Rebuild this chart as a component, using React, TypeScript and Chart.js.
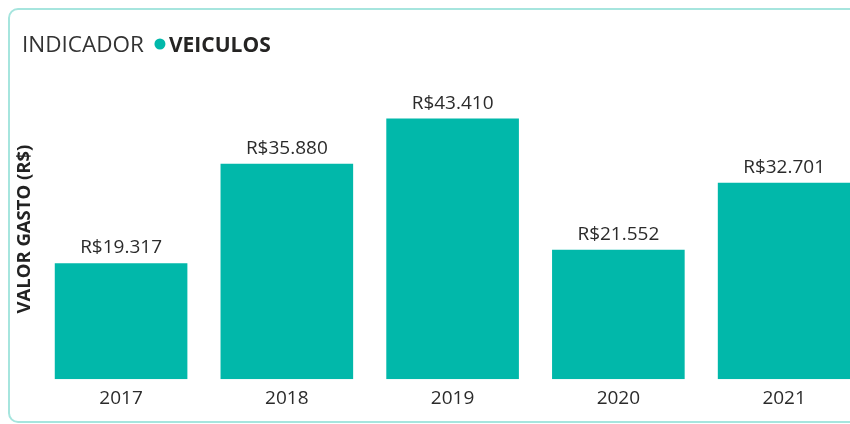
import { useEffect, useRef } from 'react';
import { Chart, registerables } from 'chart.js';

Chart.register(...registerables);

const categories = ['2017', '2018', '2019', '2020', '2021'];
const values = [19317, 35880, 43410, 21552, 32701];
const seriesLabel = 'VEICULOS';
const legendTitle = 'INDICADOR';
const yAxisTitle = 'VALOR GASTO (R$)';

const barColor = '#01b8aa';
const family = "'Open Sans', 'Noto Sans', sans-serif";

const fmt = (v: number) => 'R$' + String(v).replace(/\B(?=(\d{3})+(?!\d))/g, '.');

const labelsPlugin = {
  id: 'barLabels',
  afterDatasetsDraw(chart: any) {
    const ctx = chart.ctx;
    const meta = chart.getDatasetMeta(0);
    const data = chart.data.datasets[0].data as number[];
    ctx.save();
    ctx.font = `19px ${family}`;
    ctx.fillStyle = '#2b2b2b';
    ctx.textAlign = 'center';
    ctx.textBaseline = 'alphabetic';
    meta.data.forEach((el: any, i: number) => {
      ctx.fillText(fmt(data[i]), el.x, el.y - 10);
    });
    ctx.restore();
  },
};

const legendPlugin = {
  id: 'inlineLegend',
  afterDraw(chart: any) {
    const ctx = chart.ctx;
    const ds = chart.data.datasets[0];
    ctx.save();
    ctx.textBaseline = 'alphabetic';
    ctx.textAlign = 'left';
    ctx.font = `22.5px ${family}`;
    ctx.fillStyle = '#333333';
    ctx.fillText(legendTitle, 14, 44);
    const tw = ctx.measureText(legendTitle).width;
    const cx = 14 + tw + 16;
    ctx.beginPath();
    ctx.arc(cx, 36, 5.5, 0, Math.PI * 2);
    ctx.fillStyle = ds.backgroundColor as string;
    ctx.fill();
    ctx.font = `bold 21px ${family}`;
    ctx.fillStyle = '#252423';
    ctx.fillText(ds.label as string, cx + 9, 44);
    ctx.restore();
  },
};

export default function App() {
  const ref = useRef<HTMLCanvasElement>(null);

  useEffect(() => {
    const prevHtml = document.documentElement.style.overflow;
    const prevBody = document.body.style.overflow;
    const prevMargin = document.body.style.margin;
    document.documentElement.style.overflow = 'hidden';
    document.body.style.overflow = 'hidden';
    document.body.style.margin = '0';
    const chart = new Chart(ref.current as HTMLCanvasElement, {
      type: 'bar',
      data: {
        labels: categories,
        datasets: [
          {
            label: seriesLabel,
            data: values,
            backgroundColor: barColor,
            barPercentage: 0.8,
            categoryPercentage: 1,
          },
        ],
      },
      options: {
        animation: false,
        responsive: false,
        layout: { padding: { left: 4, right: 41, top: 71, bottom: 4 } },
        plugins: {
          legend: { display: false },
          tooltip: { enabled: false },
        },
        scales: {
          x: {
            grid: { display: false, drawTicks: false },
            border: { display: false },
            ticks: { color: '#2b2b2b', font: { family, size: 19 }, padding: 8 },
          },
          y: {
            min: 0,
            max: 50000,
            grid: { display: false, drawTicks: false },
            border: { display: false },
            ticks: { display: false },
            title: {
              display: true,
              text: yAxisTitle,
              color: '#222222',
              font: { family, size: 18.5, weight: 'bold' },
              padding: { top: 2, bottom: 2 },
            },
          },
        },
      },
      plugins: [labelsPlugin, legendPlugin],
    });
    return () => {
      chart.destroy();
      document.documentElement.style.overflow = prevHtml;
      document.body.style.overflow = prevBody;
      document.body.style.margin = prevMargin;
    };
  }, []);

  return (
    <div style={{ width: 850, height: 424, overflow: 'hidden', position: 'relative' }}>
      <div style={{ position: 'absolute', left: 8, top: 8, width: 900, height: 416 }}>
        <div
          style={{
            position: 'absolute',
            left: 0,
            top: 0,
            width: 900,
            height: 415,
            boxSizing: 'border-box',
            border: '2px solid #a6e5de',
            borderRadius: 10,
          }}
        />
        <canvas
          ref={ref}
          width={900}
          height={414}
          style={{ position: 'absolute', left: 0, top: 0, display: 'block' }}
        />
      </div>
    </div>
  );
}
